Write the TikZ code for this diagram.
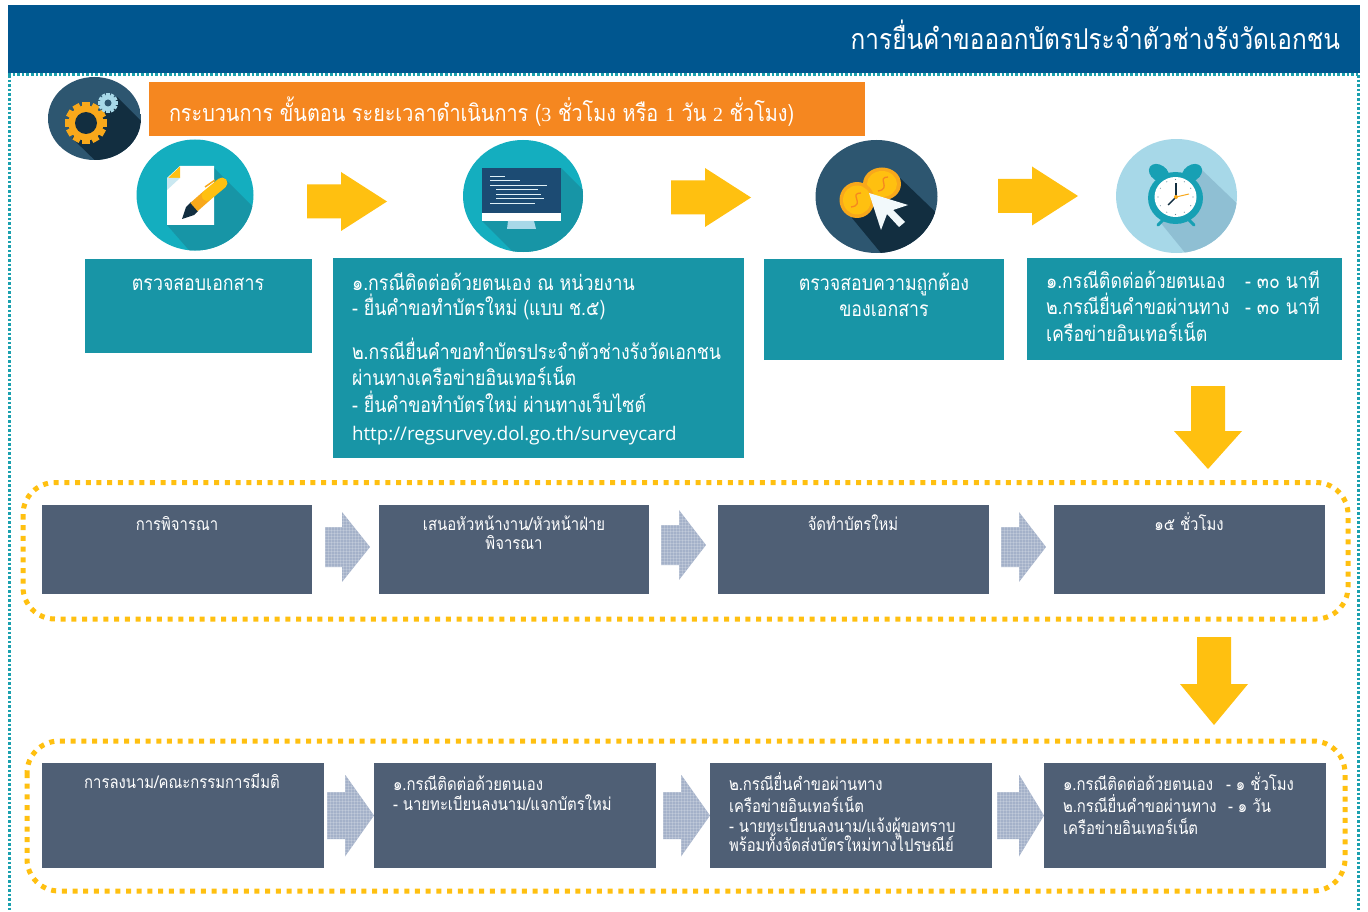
\documentclass[tikz,border=0pt]{standalone}
\usepackage{fontspec}
\usetikzlibrary{calc}
\newfontfamily\thai[Script=Thai,FakeStretch=0.85]{Loma}
\newfontfamily\urlfont{Open Sans}
\setmainfont{Liberation Serif}
\definecolor{hdr}{HTML}{00568F}
\definecolor{dotteal}{HTML}{1AA0AE}
\definecolor{orangebar}{HTML}{F58720}
\definecolor{tealbox}{HTML}{1895A6}
\definecolor{slatebox}{HTML}{4F5F75}
\definecolor{yarrow}{HTML}{FFC010}
\definecolor{garrow}{HTML}{A4B1C9}
\definecolor{navyic}{HTML}{2D5670}
\definecolor{navyshade}{HTML}{122E40}
\definecolor{tealic}{HTML}{14AEBF}
\definecolor{tealshade}{HTML}{1795A6}
\definecolor{skyic}{HTML}{A7D8E8}
\definecolor{skyshade}{HTML}{8FBFD3}
\definecolor{gold}{HTML}{F8A81B}
\definecolor{ringteal}{HTML}{17A0B4}
\definecolor{screenblue}{HTML}{1C4B73}
\tikzset{
 boxbase/.style={anchor=north west,inner sep=0,outer sep=0,draw=none},
 tealrect/.style={boxbase,fill=tealbox},
 slaterect/.style={boxbase,fill=slatebox},
 dotframe/.style={draw=yarrow,line width=5pt,dash pattern=on 5pt off 5.7pt,rounded corners=32pt},
 tealdots/.style={draw=dotteal,line width=2.6pt,dash pattern=on 2.6pt off 2pt},
 meshline/.style={white,opacity=.18,line width=.8pt},
 txtbase/.style={inner sep=0,outer sep=0,text=white,font=\thai\fontsize{20.9}{24}\selectfont},
 tl/.style={txtbase,anchor=base west},
 tc/.style={txtbase,anchor=base},
 sl/.style={tl,font=\thai\fontsize{17.5}{20}\selectfont},
 sc/.style={tc,font=\thai\fontsize{17.5}{20}\selectfont},
}
\newcommand\harrow[7]{\fill[#7] (#1,#4-#5)--(#2,#4-#5)--(#2,#4-#6)--(#3,#4)--(#2,#4+#6)--(#2,#4+#5)--(#1,#4+#5)--cycle;}
\newcommand\varrow[7]{\fill[#7] (#4-#5,#1)--(#4-#5,#2)--(#4-#6,#2)--(#4,#3)--(#4+#6,#2)--(#4+#5,#2)--(#4+#5,#1)--cycle;}
% meshed grey arrow: x0, xneck, xtip, ycentre, half shaft, half head
\newcommand\gmesh[6]{\begin{scope}
 \clip (#1,#4-#5)--(#2,#4-#5)--(#2,#4-#6)--(#3,#4)--(#2,#4+#6)--(#2,#4+#5)--(#1,#4+#5)--cycle;
 \fill[garrow] (#1,#4-#6) rectangle (#3,#4+#6);
 \foreach \k in {0,...,28}{\draw[meshline] (#1,#4-#6+3*\k) -- (#3,#4-#6+3*\k);}
 \foreach \k in {0,...,16}{\draw[meshline] (#1+3*\k,#4-#6) -- (#1+3*\k,#4+#6);}
 \end{scope}}
\newcommand\gearic[7]{%
 \foreach \a in {0,30,60,90,120,150}{%
  \fill[#6,rotate around={\a:(#1,#2)}] (#1-#3*0.17,#2-#3) rectangle (#1+#3*0.17,#2+#3);}
 \fill[#6] (#1,#2) circle[radius=#4];
 \fill[#7] (#1,#2) circle[radius=#5];}
\begin{document}
\begin{tikzpicture}[x=1pt,y=-1pt]
\useasboundingbox (0,0) rectangle (1368,912);
\fill[white] (0,0) rectangle (1368,912);
% frame
\draw[tealdots] (9.5,75) -- (9.5,910);
\draw[tealdots] (1358.5,75) -- (1358.5,910);
\fill[hdr] (8,5) rectangle (1360,73);
\draw[tealdots] (8,74.5) -- (1360,74.5);
\node[tl,font=\thai\fontsize{28.7}{32}\selectfont,anchor=base east] (title) at (1340,50) {การยื่นคำขอออกบัตรประจำตัวช่างรังวัดเอกชน};
% gear icon
\begin{scope}
\clip (94.5,118.5) ellipse[x radius=46.5,y radius=41.5];
\fill[navyic] (47,76) rectangle (141,160);
\fill[navyshade] (117,97)--(160,140)--(110,175)--(72,138)--cycle;
\end{scope}
\gearic{86}{123}{21}{17.5}{11}{gold}{navyshade}
\gearic{108}{103}{10}{8}{3.5}{skyic}{navyic}
% orange bar
\node[boxbase,fill=orangebar,minimum width=716pt,minimum height=54pt] (bar) at (149,82) {};
\node[tl,font=\thai\fontsize{23.3}{26}\selectfont] (bartext) at (169,122) {กระบวนการ ขั้นตอน ระยะเวลาดำเนินการ ({\rmfamily\fontsize{20}{24}\selectfont 3} ชั่วโมง หรือ {\rmfamily\fontsize{20}{24}\selectfont 1} วัน {\rmfamily\fontsize{20}{24}\selectfont 2} ชั่วโมง)};
% document icon
\begin{scope}
\clip (195,195) ellipse[x radius=58.5,y radius=55.5];
\fill[tealic] (130,130) rectangle (260,260);
\fill[tealshade] (214,168)--(265,219)--(215,280)--(167,225)--cycle;
\end{scope}
\fill[white] (180,166)--(214,166)--(214,225)--(167,225)--(167,178)--cycle;
\fill[yarrow] (180,166.5)--(180,178)--(168,178)--cycle;
\fill[skyic!60!white] (167,178)--(180,178)--(167,190)--cycle;
\fill[navyshade] (182,219)--(186,207)--(191,202)--(198,211)--(194,215)--cycle;
\draw[gold,line width=11pt] (194,207) -- (207,195.5);
\draw[yarrow,line width=11pt,line cap=round] (207,195.5) -- (222,183);
\draw[gold,line width=1.5pt] (205,187) -- (215,180);
% monitor icon
\begin{scope}
\clip (523,196) ellipse[x radius=60,y radius=56];
\fill[tealic] (460,138) rectangle (590,255);
\fill[tealshade] (561,168)--(600,207)--(560,270)--(513,252)--(482,221)--cycle;
\end{scope}
\fill[screenblue] (482,168) rectangle (561,213);
\fill[white] (482,213) rectangle (561,221);
\fill[skyic] (508,221) -- (534,221) -- (536,229) -- (507,229) -- cycle;
\foreach \xa/\xb/\yy in {490/505/176,490/520/180,490/547/185,496/538/189,496/541/194,496/544/198,490/535/203}{
 \draw[white!65!skyic,line width=.9pt] (\xa,\yy) -- (\xb,\yy);}
% coin icon
\begin{scope}
\clip (876.5,196.5) ellipse[x radius=61,y radius=56.5];
\fill[navyic] (810,135) rectangle (945,260);
\fill[navyshade] (900,178)--(950,226)--(895,270)--(852,218)--cycle;
\end{scope}
\fill[gold] (882,184) ellipse[x radius=19,y radius=16.5];
\fill[yarrow] (882,184) ellipse[x radius=15,y radius=13];
\fill[gold] (857,200) ellipse[x radius=17.5,y radius=18];
\fill[yarrow] (857,200) ellipse[x radius=14,y radius=14.5];
\draw[orangebar,line width=1.3pt] (861,193) .. controls (848,193) and (866,205) .. (851,207);
\draw[orangebar,line width=1.3pt] (888,177) .. controls (876,177) and (892,189) .. (878,191);
\fill[white!85!skyic] (869,193)--(908,205)--(893,210)--(905,222)--(899,227)--(887,214)--(881,230)--cycle;
% clock icon
\begin{scope}
\clip (1176.5,196) ellipse[x radius=60.5,y radius=57];
\fill[skyic] (1110,139) rectangle (1245,260);
\fill[skyshade] (1202,170)--(1250,216)--(1195,265)--(1160,222)--cycle;
\end{scope}
\fill[ringteal,rotate around={-35:(1159,173)}] (1159,173) ellipse[x radius=11,y radius=8];
\fill[ringteal,rotate around={35:(1192,173)}] (1192,173) ellipse[x radius=11,y radius=8];
\draw[ringteal,line width=3pt,line cap=round] (1163,220) -- (1158,225);
\draw[ringteal,line width=3pt,line cap=round] (1189,220) -- (1194,225);
\fill[ringteal] (1175.5,198) ellipse[x radius=27.5,y radius=26];
\fill[white] (1175.5,197) ellipse[x radius=21,y radius=20];
\draw[navyshade,line width=1.4pt] (1176,197) -- (1176,183);
\draw[navyshade,line width=1.4pt] (1176,197) -- (1168,205);
\draw[gold,line width=1pt] (1176,197) -- (1189,194);
\fill[gold] (1176,197) circle[radius=2];
\foreach \a in {0,30,...,330}{\fill[navyic!70!white] ($(1175.5,197)+(\a:17.5)$) circle[radius=.6];}
% yellow arrows
\harrow{307}{341}{387}{201.5}{17}{29.5}{yarrow}
\harrow{671}{705}{751}{197.5}{17}{29.5}{yarrow}
\harrow{998}{1032}{1078}{196}{17}{29.5}{yarrow}
\varrow{386}{431}{469}{1208}{17}{34}{yarrow}
\varrow{637}{684}{725}{1214}{17}{34}{yarrow}
% teal boxes
\node[tealrect,minimum width=227pt,minimum height=94pt] (b1) at (85,259) {};
\node[tealrect,minimum width=411pt,minimum height=200pt] (b2) at (333,258) {};
\node[tealrect,minimum width=240pt,minimum height=101pt] (b3) at (764,259) {};
\node[tealrect,minimum width=315pt,minimum height=102pt] (b4) at (1027,258) {};
\node[tc] (b1a) at (198,290) {ตรวจสอบเอกสาร};
\node[tl] (b2a) at (352,290) {๑.กรณีติดต่อด้วยตนเอง ณ หน่วยงาน};
\node[tl] (b2b) at (352,315) {- ยื่นคำขอทำบัตรใหม่ (แบบ ช.๕)};
\node[tl] (b2c) at (352,359) {๒.กรณียื่นคำขอทำบัตรประจำตัวช่างรังวัดเอกชน};
\node[tl] (b2d) at (352,385) {ผ่านทางเครือข่ายอินเทอร์เน็ต};
\node[tl] (b2e) at (352,412) {- ยื่นคำขอทำบัตรใหม่ ผ่านทางเว็บไซต์};
\node[tl,font=\urlfont\fontsize{18.8}{24}\selectfont] (b2f) at (352,440) {http://regsurvey.dol.go.th/surveycard};
\node[tc] (b3a) at (884,290) {ตรวจสอบความถูกต้อง};
\node[tc] (b3b) at (884,316) {ของเอกสาร};
\node[tl] (b4a) at (1046,288) {๑.กรณีติดต่อด้วยตนเอง};
\node[tl] (b4b) at (1245,288) {- ๓๐ นาที};
\node[tl] (b4c) at (1046,314) {๒.กรณียื่นคำขอผ่านทาง};
\node[tl] (b4d) at (1245,314) {- ๓๐ นาที};
\node[tl] (b4e) at (1046,341) {เครือข่ายอินเทอร์เน็ต};
% row 1
\draw[dotframe] (23,482.5) rectangle (1348,619);
\node[slaterect,minimum width=270pt,minimum height=89pt] (r1) at (42,505) {};
\node[slaterect,minimum width=270pt,minimum height=89pt] (r2) at (379,505) {};
\node[slaterect,minimum width=271pt,minimum height=89pt] (r3) at (718,505) {};
\node[slaterect,minimum width=271pt,minimum height=89pt] (r4) at (1054,505) {};
\gmesh{325}{342}{370}{547}{20}{35}
\gmesh{661}{679}{706}{545}{20}{35}
\gmesh{1001}{1019}{1046}{547}{20}{35}
\node[sc] (r1a) at (177,530) {การพิจารณา};
\node[sc] (r2a) at (514,530) {เสนอหัวหน้างาน/หัวหน้าฝ่าย};
\node[sc] (r2b) at (514,549) {พิจารณา};
\node[sc] (r3a) at (853,530) {จัดทำบัตรใหม่};
\node[sc] (r4a) at (1189,530) {๑๕ ชั่วโมง};
% row 2
\draw[dotframe] (27,741) rectangle (1345,891);
\node[slaterect,minimum width=282pt,minimum height=105pt] (s1) at (42,763) {};
\node[slaterect,minimum width=282pt,minimum height=105pt] (s2) at (374,763) {};
\node[slaterect,minimum width=282pt,minimum height=105pt] (s3) at (710,763) {};
\node[slaterect,minimum width=282pt,minimum height=105pt] (s4) at (1044,763) {};
\gmesh{327}{345}{374}{815.5}{23.5}{41}
\gmesh{663}{681}{710}{815.5}{23.5}{41}
\gmesh{997}{1019}{1044}{815.5}{23.5}{41}
\node[sc] (s1a) at (182,788) {การลงนาม/คณะกรรมการมีมติ};
\node[sl] (s2a) at (393,790) {๑.กรณีติดต่อด้วยตนเอง};
\node[sl] (s2b) at (393,810) {- นายทะเบียนลงนาม/แจกบัตรใหม่};
\node[sl] (s3a) at (729,790) {๒.กรณียื่นคำขอผ่านทาง};
\node[sl] (s3b) at (729,812) {เครือข่ายอินเทอร์เน็ต};
\node[sl] (s3c) at (729,832) {- นายทะเบียนลงนาม/แจ้งผู้ขอทราบ};
\node[sl] (s3d) at (729,851) {พร้อมทั้งจัดส่งบัตรใหม่ทางไปรษณีย์};
\node[sl] (s4a) at (1063,790) {๑.กรณีติดต่อด้วยตนเอง};
\node[sl] (s4b) at (1226,790) {- ๑ ชั่วโมง};
\node[sl] (s4c) at (1063,812) {๒.กรณียื่นคำขอผ่านทาง};
\node[sl] (s4d) at (1228,812) {- ๑ วัน};
\node[sl] (s4e) at (1063,834) {เครือข่ายอินเทอร์เน็ต};
\end{tikzpicture}
\end{document}
